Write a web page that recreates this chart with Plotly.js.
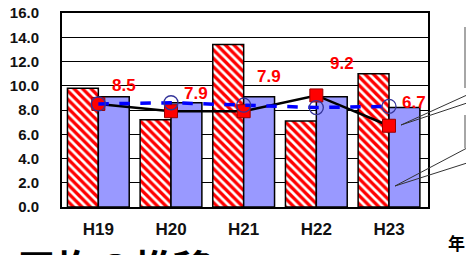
<!DOCTYPE html>
<html>
<head>
<meta charset="utf-8">
<script src="https://cdn.plot.ly/plotly-3.0.1.min.js"></script>
<style>html,body{margin:0;padding:0;background:#fff;}#chart{width:466px;height:255px;}</style>
</head>
<body>
<div id="chart"></div>
<script>
// ---- data ----
const categories = ["H19", "H20", "H21", "H22", "H23"];
const barRed = [9.8, 7.2, 13.4, 7.1, 11.0];
const barBlue = [9.1, 8.6, 9.1, 9.1, 8.2];
const lineBlack = [8.5, 7.9, 7.9, 9.2, 6.7];
const lineBlue = [8.5, 8.6, 8.4, 8.2, 8.3];
const yTicks = [0, 2, 4, 6, 8, 10, 12, 14, 16];
const bottomTitle = "平均の推移";
const unitLabel = "年";

// ---- label offsets (pixels) ----
const labelDX = [26, 25, 25, 26, 25];
const labelDY = [18, 18, 35, 32, 23];

const traces = [
  {type: "bar", x: categories, y: barRed, showlegend: false,
   marker: {color: "#FF0000", line: {color: "#000", width: 1.5},
            pattern: {shape: "\\", fgcolor: "#FFFFFF", bgcolor: "#FF0000", size: 6, solidity: 0.45}}},
  {type: "bar", x: categories, y: barBlue, showlegend: false,
   marker: {color: "#9999FF", line: {color: "#000", width: 1.5}}},
  {type: "scatter", mode: "lines+markers", x: categories, y: lineBlack, showlegend: false,
   line: {color: "#000", width: 2.5},
   marker: {symbol: "square", size: 13, color: "#FF0000", line: {color: "#990000", width: 1}}},
  {type: "scatter", mode: "lines+markers", x: categories, y: lineBlue, showlegend: false,
   line: {color: "#0000FF", width: 3.5, dash: "dash"},
   marker: {symbol: "circle-open", size: 14, color: "#333399", line: {width: 1.3}}}
];

const annotations = categories.map((c, i) => ({
  x: c, y: lineBlack[i], xref: "x", yref: "y", text: lineBlack[i].toFixed(1),
  showarrow: false, xshift: labelDX[i], yshift: labelDY[i],
  font: {family: "Liberation Sans, Arial, sans-serif", size: 17, color: "#FF0000", weight: "bold"}
}));
annotations.push({
  xref: "paper", yref: "paper", x: -0.128, y: -0.148, xanchor: "left", yanchor: "top",
  text: "<b>" + bottomTitle + "</b>", showarrow: false,
  font: {family: "Noto Sans CJK JP", size: 39, color: "#000"}
});
annotations.push({
  xref: "paper", yref: "paper", x: 1.05, y: -0.185, xanchor: "left", yanchor: "middle",
  text: "<b>" + unitLabel + "</b>", showarrow: false,
  font: {family: "Noto Sans CJK JP", size: 17, color: "#000"}
});

function px2x(px) { return (px - 62) / 366; }
function py2y(py) { return (207 - py) / 194; }
const seg = (x0, y0, x1, y1, col, w) => ({type: "line", xref: "paper", yref: "paper",
  x0: px2x(x0), y0: py2y(y0), x1: px2x(x1), y1: py2y(y1), line: {color: col, width: w}});
const shapes = [
  seg(401, 125, 467, 95, "#333", 1), seg(401, 125, 467, 103, "#333", 1),
  seg(395, 186, 467, 148, "#333", 1), seg(395, 186, 467, 163, "#333", 1),
  seg(465, 27, 465, 88, "#888", 1.5), seg(465, 115, 465, 148, "#888", 1.5)
];

const layout = {
  width: 466, height: 255,
  margin: {l: 62, r: 38, t: 13, b: 48},
  paper_bgcolor: "#fff", plot_bgcolor: "#fff",
  barmode: "group", bargap: 0.15, bargroupgap: 0,
  showlegend: false,
  xaxis: {showline: true, linecolor: "#000", linewidth: 2, mirror: true, showgrid: false,
          ticks: "", ticklabelstandoff: 6,
          tickfont: {family: "Liberation Sans, Arial, sans-serif", size: 17, color: "#111", weight: "bold"}},
  yaxis: {range: [0, 16], tickvals: yTicks, tickformat: ".1f", showline: true, linecolor: "#000",
          linewidth: 2, mirror: true, gridcolor: "#000", gridwidth: 1, zeroline: false, ticks: "",
          ticklabelstandoff: 18,
          tickfont: {family: "Liberation Sans, Arial, sans-serif", size: 15, color: "#111", weight: "bold"}},
  annotations: annotations,
  shapes: shapes
};

Plotly.newPlot("chart", traces, layout, {displayModeBar: false, staticPlot: true});
</script>
</body>
</html>
